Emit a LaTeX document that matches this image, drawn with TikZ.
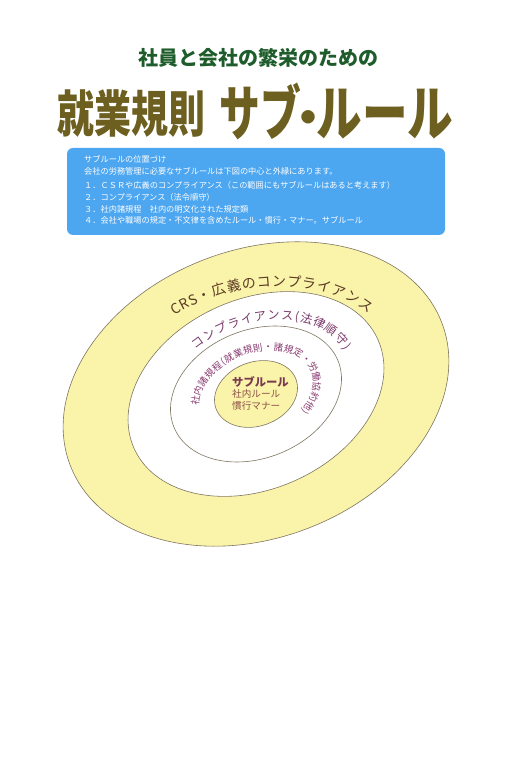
\documentclass[tikz,border=0pt]{standalone}
\usepackage{fontspec}
\setmainfont{Noto Sans CJK JP}
\usepackage{graphicx}
\usetikzlibrary{decorations.text}
\definecolor{boxblue}{HTML}{4DA6F0}
\definecolor{ylw}{HTML}{FAF3AA}
\definecolor{ringline}{HTML}{7F7660}
\definecolor{tgreen}{HTML}{1F5C2B}
\definecolor{tolive}{HTML}{6D5F1F}
\definecolor{txtA}{HTML}{5B3A22}
\definecolor{txtB}{HTML}{7B3B6B}
\definecolor{txtC}{HTML}{8A3C72}
\definecolor{txtD}{HTML}{7A3A50}
\definecolor{txtE}{HTML}{8B5048}
\tikzset{
  titlea/.style={font=\bfseries\fontsize{20}{20}\selectfont, text=tgreen, inner sep=0},
  titleb/.style={font=\bfseries\fontsize{50}{50}\selectfont, text=tolive, inner sep=0, anchor=west},
  titlec/.style={font=\bfseries\fontsize{60}{60}\selectfont, text=tolive, inner sep=0, anchor=west},
  boxtext/.style={font=\fontsize{8.2}{8.2}\selectfont, text=white, inner sep=0, anchor=base west},
  ringY/.style={fill=ylw, draw=ringline, line width=0.6pt},
  ringW/.style={fill=white, draw=ringline, line width=0.6pt},
  ctrbold/.style={font=\bfseries\fontsize{11.3}{11.3}\selectfont, text=txtD, inner sep=0, anchor=west},
  ctrtext/.style={font=\fontsize{9.6}{9.6}\selectfont, text=txtE, inner sep=0, anchor=west}
}
\begin{document}
\begin{tikzpicture}[x=1pt,y=1pt]
\fill[white] (0,0) rectangle (507,769);
\useasboundingbox (0,0) rectangle (507,769);

\node[titlea] (t1) at (258.5,711) {社員と会社の繁栄のための};
\node[titleb] (t2) at (57,655.5) {\scalebox{0.74}[1]{就業規則}};
\node[titlec] (t3) at (219,657.5) {\scalebox{0.68}[1]{サブ}\kern-16pt{\fontsize{48}{48}\selectfont ・}\kern-16pt\scalebox{0.76}[1]{ルール}};

\node[fill=boxblue, rounded corners=6pt, minimum width=378pt, minimum height=87pt, inner sep=0] (box) at (256,577.5) {};
\node[boxtext] (b1) at (84,606) {サブルールの位置づけ};
\node[boxtext] (b2) at (84,594) {会社の労務管理に必要なサブルールは下図の中心と外縁にあります。};
\node[boxtext] (b3) at (84,580) {１．ＣＳＲや広義のコンプライアンス（この範囲にもサブルールはあると考えます）};
\node[boxtext] (b4) at (84,568) {２．コンプライアンス（法令順守）};
\node[boxtext] (b5) at (84,556) {３．社内諸規程　社内の明文化された規定類};
\node[boxtext] (b6) at (84,545) {４．会社や職場の規定・不文律を含めたルール・慣行・マナー。サブルール};

\begin{scope}[shift={(256,375)}]
\draw[ringY, rotate=21] (0,0) ellipse[x radius=199, y radius=144];
\draw[ringW, rotate=24] (0,0) ellipse[x radius=133.5, y radius=95];
\draw[ringW, rotate=22] (0,0) ellipse[x radius=88.5, y radius=64];
\draw[ringY, rotate=20] (0,0) ellipse[x radius=42.6, y radius=32];
\path[rotate=14, decorate, decoration={text along path, text={|\fontsize{14}{14}\selectfont|CRS・広義のコンプライアンス}, text color=txtA, text align=fit to path, raise=-5pt}]
  (114:152 and 110) arc[start angle=114, end angle=29.5, x radius=152, y radius=110];
\path[rotate=22, decorate, decoration={text along path, text={|\fontsize{12}{12}\selectfont|コンプライアンス(法律順守)}, text color=txtB, text align=fit to path, raise=-4pt}]
  (113:103 and 74) arc[start angle=113, end angle=6, x radius=103, y radius=74];
\path[rotate=22, decorate, decoration={text along path, text={|\fontsize{9.5}{9.5}\selectfont|社内諸規程(就業規則・諸規定・労働協約他)}, text color=txtC, text align=fit to path, raise=-3.4pt}]
  (164:63 and 44) arc[start angle=164, end angle=-54, x radius=63, y radius=44];
\end{scope}

\node[ctrbold] (c1) at (232,387) {サブルール};
\node[ctrtext] (c2) at (232,375) {社内ルール};
\node[ctrtext] (c3) at (232,363) {慣行マナー};
\end{tikzpicture}
\end{document}
